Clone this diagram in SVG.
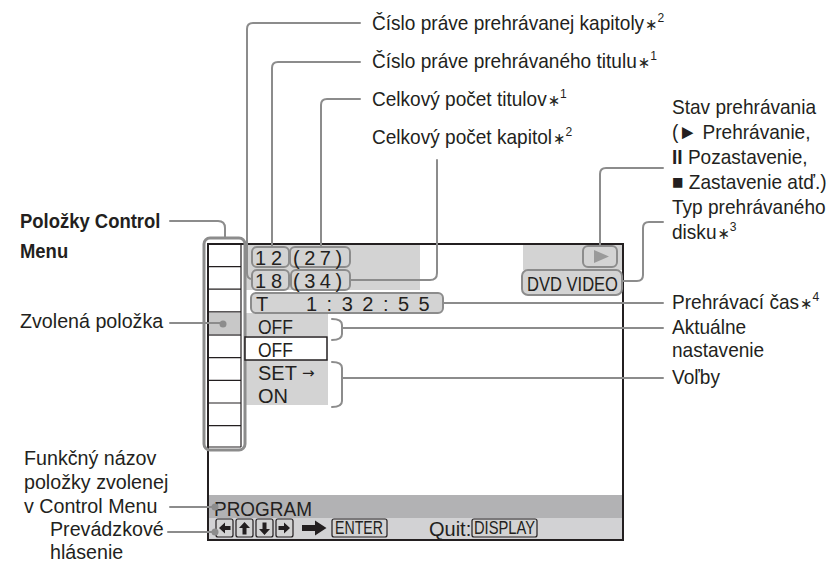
<svg xmlns="http://www.w3.org/2000/svg" width="830" height="563" viewBox="0 0 830 563">
<style>
.t{font-family:"Liberation Sans",Arial,sans-serif;font-size:19px;fill:#231f20}
.L{font-size:20.5px}
.s{font-size:20px}
.b{font-weight:bold}
.sup{font-size:13px}
.ast{font-family:"DejaVu Sans","Liberation Sans",sans-serif;font-size:16px}
.c{fill:none;stroke:#8c8c8c;stroke-width:2;stroke-linecap:round;stroke-linejoin:round}
.box{fill:#d3d3d3;stroke:#8c8c8c;stroke-width:2}
.lg{fill:#d3d3d3}
.k{fill:#231f20}
.btn{fill:#d3d3d3;stroke:#231f20;stroke-width:1.2}
.cell{stroke:#231f20;stroke-width:1.2}
.dot{fill:#8c8c8c}
</style>
<rect width="830" height="563" fill="#ffffff"/>

<g id="screen">
  <rect x="245" y="244" width="175" height="46" class="lg"/>
  <rect x="523" y="244" width="99" height="26" class="lg"/>
  <rect x="245" y="313" width="83" height="23" class="lg"/>
  <rect x="245" y="359" width="83" height="46" class="lg"/>
  <rect x="209" y="495" width="413" height="23" fill="#b2b2b4"/>
  <rect x="209" y="518" width="413" height="21" fill="#d2d2d4"/>
  <rect x="208" y="244" width="415" height="296" fill="none" stroke="#231f20" stroke-width="2"/>
</g>

<g id="menu-column">
  <rect x="209" y="313" width="32" height="23" fill="#c8c8c8"/>
  <line x1="241" y1="244" x2="241" y2="447" class="cell"/>
  <line x1="208" y1="266.6" x2="241" y2="266.6" class="cell"/>
  <line x1="208" y1="289.2" x2="241" y2="289.2" class="cell"/>
  <line x1="208" y1="311.8" x2="241" y2="311.8" class="cell"/>
  <line x1="208" y1="335" x2="241" y2="335" class="cell"/>
  <line x1="208" y1="357.6" x2="241" y2="357.6" class="cell"/>
  <line x1="208" y1="380.4" x2="241" y2="380.4" class="cell"/>
  <line x1="208" y1="403" x2="241" y2="403" class="cell"/>
  <line x1="208" y1="425.6" x2="241" y2="425.6" class="cell"/>
  <line x1="208" y1="447" x2="241" y2="447" class="cell"/>
  <rect x="204" y="238" width="41" height="212" rx="6" fill="none" stroke="#8c8c8c" stroke-width="3"/>
</g>

<g id="title-chapter">
  <rect x="252" y="247" width="37" height="20" rx="5" class="box"/>
  <text x="255" y="265" class="t s" letter-spacing="5">12</text>
  <rect x="290" y="247" width="60" height="20" rx="5" class="box"/>
  <text x="293" y="265" class="t s" letter-spacing="4.5">(27)</text>
  <rect x="252" y="270" width="37" height="20" rx="5" class="box"/>
  <text x="255" y="288" class="t s" letter-spacing="5">18</text>
  <rect x="291" y="270" width="59" height="20" rx="5" class="box"/>
  <text x="293" y="288" class="t s" letter-spacing="4.5">(34)</text>
</g>

<g id="time">
  <rect x="251" y="293" width="192" height="20" rx="5" class="box"/>
  <text x="256" y="311" class="t s">T</text>
  <text x="306" y="311" class="t s" letter-spacing="9.5">1:32:55</text>
</g>

<g id="status">
  <rect x="583" y="246" width="34" height="21" rx="5" class="box"/>
  <polygon points="594,250 609,256.5 594,263" fill="#9a9a9a"/>
  <rect x="522" y="270" width="100" height="25" rx="6" class="box"/>
  <text x="527" y="291" class="t s" textLength="91" lengthAdjust="spacingAndGlyphs">DVD VIDEO</text>
</g>

<g id="options">
  <text x="258" y="334" class="t s" textLength="35" lengthAdjust="spacingAndGlyphs">OFF</text>
  <rect x="245" y="337" width="82" height="23" fill="#ffffff" stroke="#231f20" stroke-width="1.5"/>
  <text x="258" y="357" class="t s" textLength="35" lengthAdjust="spacingAndGlyphs">OFF</text>
  <text x="258" y="380" class="t s">SET <tspan font-family="DejaVu Sans,sans-serif" font-size="15" dy="-2">→</tspan></text>
  <text x="258" y="403" class="t s">ON</text>
</g>

<g id="bottom-bar">
  <text x="214" y="516" class="t s" textLength="98" lengthAdjust="spacingAndGlyphs">PROGRAM</text>
  <rect x="216" y="519" width="17" height="18" rx="2" class="btn"/>
  <rect x="236" y="519" width="17" height="18" rx="2" class="btn"/>
  <rect x="256" y="519" width="17" height="18" rx="2" class="btn"/>
  <rect x="276" y="519" width="17" height="18" rx="2" class="btn"/>
  <path class="k" d="M219 528 L225 522.5 V526 H230.5 V530 H225 V533.5 Z"/>
  <path class="k" d="M244.5 522 L250 528 H246.5 V534.5 H242.5 V528 H239 Z"/>
  <path class="k" d="M264.5 535 L270 529 H266.5 V522.5 H262.5 V529 H259 Z"/>
  <path class="k" d="M290 528 L284 522.5 V526 H278.5 V530 H284 V533.5 Z"/>
  <path class="k" d="M302 525 H315 V520.5 L326.5 528 L315 535.5 V531 H302 Z"/>
  <rect x="332" y="519" width="55" height="18" rx="2" class="btn"/>
  <text x="335" y="534" class="t" font-size="16" textLength="48" lengthAdjust="spacingAndGlyphs">ENTER</text>
  <text x="429" y="536" class="t s">Quit:</text>
  <rect x="472" y="519" width="65" height="18" rx="2" class="btn"/>
  <text x="474" y="534" class="t" font-size="16" textLength="61" lengthAdjust="spacingAndGlyphs">DISPLAY</text>
</g>

<g id="connectors">
  <path class="c" d="M360 23 H253 Q247 23 247 29 V273 Q247 279 252 279"/>
  <path class="c" d="M360 62 H278 Q272 62 272 68 V247"/>
  <path class="c" d="M360 99 H327 Q321 99 321 105 V247"/>
  <path class="c" d="M437 160 V273 Q437 280 430 280 H350"/>
  <path class="c" d="M663 168 H606 Q600 168 600 174 V246"/>
  <path class="c" d="M663 222 H649 Q643 222 643 228 V275 Q643 281 637 281 H622"/>
  <path class="c" d="M443 303 H663"/>
  <path class="c" d="M332 319 Q342 319 342 325 V334 Q342 340 332 340"/>
  <path class="c" d="M342 328 H663"/>
  <path class="c" d="M332 362 Q342 362 342 368 V401 Q342 407 332 407"/>
  <path class="c" d="M342 378 H663"/>
  <path class="c" d="M170 323 H223"/>
  <circle cx="223" cy="324" r="3.5" class="dot"/>
  <path class="c" d="M170 221 H218 Q225 221 225 228 V238"/>
  <path class="c" d="M170 507 H215"/>
  <circle cx="215" cy="507" r="3.5" class="dot"/>
  <path class="c" d="M168 532 H215"/>
  <circle cx="215" cy="532" r="3.5" class="dot"/>
</g>

<g id="labels-top" transform="matrix(0.93 0 0 1 26.04 0)">
  <text x="372" y="30" class="t L">Číslo práve prehrávanej kapitoly<tspan class="ast" dx="1">∗</tspan><tspan class="sup" dy="-8">2</tspan></text>
  <text x="372" y="68" class="t L">Číslo práve prehrávaného titulu<tspan class="ast" dx="1">∗</tspan><tspan class="sup" dy="-8">1</tspan></text>
  <text x="372" y="106" class="t L">Celkový počet titulov<tspan class="ast" dx="1">∗</tspan><tspan class="sup" dy="-8">1</tspan></text>
  <text x="372" y="144" class="t L">Celkový počet kapitol<tspan class="ast" dx="1">∗</tspan><tspan class="sup" dy="-8">2</tspan></text>
</g>
<g id="labels-right" transform="matrix(0.93 0 0 1 47.04 0)">
  <text x="672" y="114" class="t L">Stav prehrávania</text>
  <text x="672" y="139" class="t L">(► Prehrávanie,</text>
  <text x="672" y="164" class="t L"><tspan class="b">II</tspan> Pozastavenie,</text>
  <text x="672" y="189" class="t L">■ Zastavenie atď.)</text>
  <text x="672" y="214" class="t L">Typ prehrávaného</text>
  <text x="672" y="239" class="t L">disku<tspan class="ast" dx="1">∗</tspan><tspan class="sup" dy="-8">3</tspan></text>
  <text x="672" y="309" class="t L">Prehrávací čas<tspan class="ast" dx="1">∗</tspan><tspan class="sup" dy="-8">4</tspan></text>
  <text x="672" y="334" class="t L">Aktuálne</text>
  <text x="672" y="357" class="t L">nastavenie</text>
  <text x="672" y="384" class="t L">Voľby</text>
</g>
<g id="labels-left-bold" transform="matrix(0.9 0 0 1 2 0)">
  <text x="20" y="228" class="t L b">Položky Control</text>
  <text x="20" y="258" class="t L b">Menu</text>
</g>
<g id="labels-left" transform="matrix(0.96 0 0 1 0.8 0)">
  <text x="20" y="328" class="t L">Zvolená položka</text>
</g>
<g id="labels-bottom" transform="matrix(0.96 0 0 1 0.96 0)">
  <text x="24" y="465" class="t L">Funkčný názov</text>
  <text x="24" y="489" class="t L">položky zvolenej</text>
  <text x="24" y="513" class="t L">v Control Menu</text>
</g>
<g id="labels-bottom2" transform="matrix(0.96 0 0 1 2 0)">
  <text x="50" y="536" class="t L">Prevádzkové</text>
  <text x="50" y="559" class="t L">hlásenie</text>
</g>
</svg>
